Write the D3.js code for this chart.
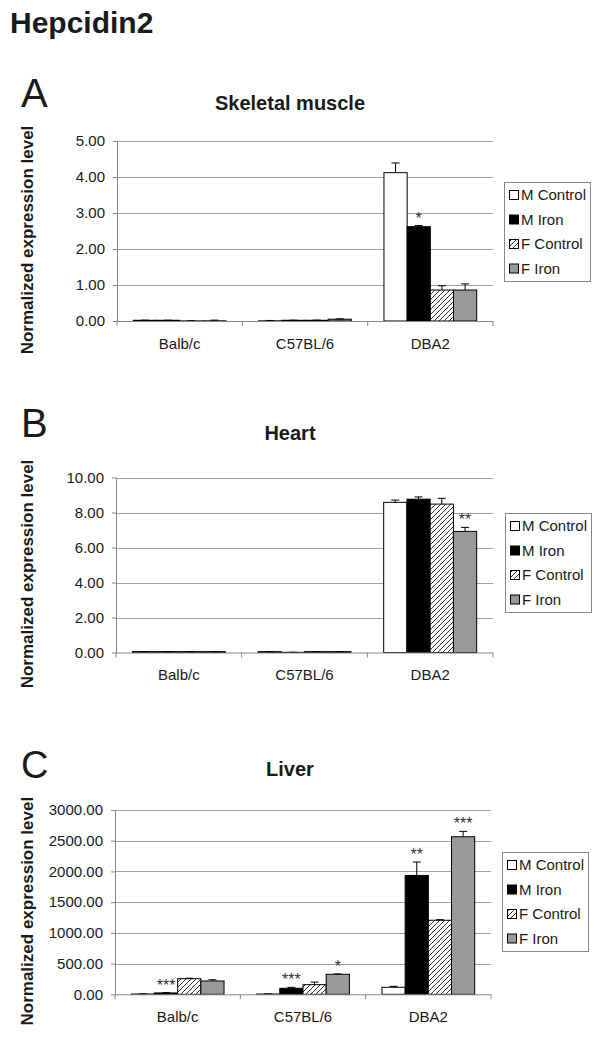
<!DOCTYPE html>
<html><head><meta charset="utf-8">
<script src="https://cdn.jsdelivr.net/npm/d3@7"></script>
<style>
body{margin:0;background:#fff;}
svg{display:block;font-family:Arial,"Liberation Sans",Helvetica,sans-serif;}
</style></head>
<body><svg id="chart" width="600" height="1039"></svg>
<script>
// ---- data ----
const categories = ["Balb/c", "C57BL/6", "DBA2"];
const seriesNames = ["M Control", "M Iron", "F Control", "F Iron"];

// A: Skeletal muscle
const muscleMControl = [0.02, 0.005, 4.12];
const muscleMIron    = [0.02, 0.02, 2.62];
const muscleFControl = [0.003, 0.02, 0.86];
const muscleFIron    = [0.005, 0.05, 0.86];
const muscleErrMControl = [0.003, 0.01, 0.27];
const muscleErrMIron    = [0.002, 0.003, 0.03];
const muscleErrFControl = [0.003, 0.004, 0.12];
const muscleErrFIron    = [0.02, 0.01, 0.17];
const muscleSigMIron = ["", "", "*"];
const muscleSigFIron = ["", "", ""];
const muscleTicks = ["0.00", "1.00", "2.00", "3.00", "4.00", "5.00"];

// B: Heart
const heartMControl = [0.05, 0.05, 8.58];
const heartMIron    = [0.05, 0.01, 8.76];
const heartFControl = [0.05, 0.05, 8.48];
const heartFIron    = [0.05, 0.05, 6.92];
const heartErrMControl = [0.005, 0.005, 0.13];
const heartErrMIron    = [0.005, 0.005, 0.13];
const heartErrFControl = [0.005, 0.005, 0.33];
const heartErrFIron    = [0.005, 0.005, 0.23];
const heartSigMIron = ["", "", ""];
const heartSigFIron = ["", "", "**"];
const heartTicks = ["0.00", "2.00", "4.00", "6.00", "8.00", "10.00"];

// C: Liver
const liverMControl = [5, 5, 114];
const liverMIron    = [22, 98, 1935];
const liverFControl = [254, 157, 1205];
const liverFIron    = [217, 326, 2565];
const liverErrMControl = [2, 2, 16];
const liverErrMIron    = [5, 15, 218];
const liverErrFControl = [8, 42, 10];
const liverErrFIron    = [20, 5, 87];
const liverSigMIron = ["***", "***", "**"];
const liverSigFIron = ["", "*", "***"];
const liverTicks = ["0.00", "500.00", "1000.00", "1500.00", "2000.00", "2500.00", "3000.00"];

// ---- drawing ----
const svg = d3.select("#chart");
const defs = svg.append("defs");
const pat = defs.append("pattern").attr("id", "hatch")
  .attr("patternUnits", "userSpaceOnUse").attr("width", 5).attr("height", 5);
pat.append("rect").attr("width", 5).attr("height", 5).attr("fill", "#fff");
pat.append("path").attr("d", "M-1,1 l2,-2 M0,5 l5,-5 M4,6 l2,-2")
  .attr("stroke", "#333").attr("stroke-width", 1);

const fills = ["#ffffff", "#000000", "url(#hatch)", "#999999"];
const textColor = "#1a1a1a";

svg.append("text").attr("x", 10).attr("y", 33)
  .attr("font-size", 30).attr("font-weight", "bold").attr("fill", textColor)
  .text("Hepcidin2");

const panels = [
  { letter: "A", title: "Skeletal muscle", letterY: 107, letterSize: 40, titleY: 110,
    x0: 117, x1: 493, y0: 141, y1: 321, ticks: muscleTicks,
    values: [muscleMControl, muscleMIron, muscleFControl, muscleFIron],
    errs: [muscleErrMControl, muscleErrMIron, muscleErrFControl, muscleErrFIron],
    sigs: [null, muscleSigMIron, null, muscleSigFIron],
    legendX: 504, legendY: 182, catOffset: 28 },
  { letter: "B", title: "Heart", letterY: 437, letterSize: 40, titleY: 440,
    x0: 116, x1: 493, y0: 477.5, y1: 652.5, ticks: heartTicks,
    values: [heartMControl, heartMIron, heartFControl, heartFIron],
    errs: [heartErrMControl, heartErrMIron, heartErrFControl, heartErrFIron],
    sigs: [null, heartSigMIron, null, heartSigFIron],
    legendX: 505, legendY: 513, catOffset: 27 },
  { letter: "C", title: "Liver", letterY: 778, letterSize: 38, titleY: 776,
    x0: 115, x1: 491, y0: 810, y1: 994.3, ticks: liverTicks,
    values: [liverMControl, liverMIron, liverFControl, liverFIron],
    errs: [liverErrMControl, liverErrMIron, liverErrFControl, liverErrFIron],
    sigs: [null, liverSigMIron, null, liverSigFIron],
    legendX: 502, legendY: 852, catOffset: 28 }
];

panels.forEach(p => {
  const g = svg.append("g");
  const tickVals = p.ticks.map(Number);
  const y = d3.scaleLinear().domain([0, d3.max(tickVals)]).range([p.y1, p.y0]);
  const x = d3.scaleBand().domain(categories).range([p.x0, p.x1]).paddingInner(0).paddingOuter(0);
  const xs = d3.scaleBand().domain(seriesNames)
    .range([x.bandwidth() * 0.13, x.bandwidth() * 0.87]).padding(0);

  // letter and title
  g.append("text").attr("x", 21).attr("y", p.letterY)
    .attr("font-size", p.letterSize).attr("fill", textColor).text(p.letter);
  g.append("text").attr("x", 290).attr("y", p.titleY).attr("text-anchor", "middle")
    .attr("font-size", 20).attr("font-weight", "bold").attr("fill", textColor).text(p.title);

  // y-axis title
  g.append("text")
    .attr("transform", `translate(33,${(p.y0 + p.y1) / 2 + 9}) rotate(-90)`)
    .attr("text-anchor", "middle").attr("font-size", 17).attr("font-weight", "bold")
    .attr("fill", textColor).text("Normalized expression level");

  // gridlines
  g.append("g").selectAll("line").data(tickVals.filter(v => v > 0)).join("line")
    .attr("x1", p.x0).attr("x2", p.x1)
    .attr("y1", d => Math.round(y(d)) + 0.5).attr("y2", d => Math.round(y(d)) + 0.5)
    .attr("stroke", "#a0a0a0").attr("stroke-width", 1);

  // y axis
  const yAxis = g.append("g").attr("transform", `translate(${p.x0},0)`)
    .call(d3.axisLeft(y).tickValues(tickVals).tickSizeOuter(0).tickSizeInner(4).tickPadding(8)
      .tickFormat((d, i) => p.ticks[i]));
  yAxis.select(".domain").attr("stroke", "#888");
  yAxis.selectAll(".tick line").attr("stroke", "#888");
  yAxis.selectAll(".tick text").attr("font-size", 15).attr("fill", textColor)
    .attr("font-family", "Arial, 'Liberation Sans', sans-serif");

  // bars
  const barG = g.append("g");
  seriesNames.forEach((s, si) => {
    const vals = p.values[si];
    barG.append("g").selectAll("rect").data(categories).join("rect")
      .attr("x", c => x(c) + xs(s))
      .attr("y", (c, i) => y(vals[i]))
      .attr("width", xs.bandwidth())
      .attr("height", (c, i) => Math.max(0, y(0) - y(vals[i])))
      .attr("fill", fills[si]).attr("stroke", "#000").attr("stroke-width", 1);
    // error bars
    const errs = p.errs[si];
    const eg = barG.append("g");
    categories.forEach((c, i) => {
      const cx = x(c) + xs(s) + xs.bandwidth() / 2;
      const top = y(vals[i] + errs[i]);
      eg.append("line").attr("x1", cx).attr("x2", cx).attr("y1", y(vals[i])).attr("y2", top)
        .attr("stroke", "#000").attr("stroke-width", 1);
      eg.append("line").attr("x1", cx - 4).attr("x2", cx + 4).attr("y1", top).attr("y2", top)
        .attr("stroke", "#000").attr("stroke-width", 1);
      const sig = p.sigs[si] ? p.sigs[si][i] : "";
      if (sig) {
        eg.append("text").attr("x", cx).attr("y", top - 2).attr("text-anchor", "middle")
          .attr("font-size", 16).attr("fill", "#333").text(sig);
      }
    });
  });

  // x axis
  const xAxis = g.append("g").attr("transform", `translate(0,${p.y1})`);
  xAxis.append("line").attr("x1", p.x0).attr("x2", p.x1).attr("y1", 0.5).attr("y2", 0.5)
    .attr("stroke", "#888");
  xAxis.selectAll("line.tk").data(categories.map(c => x(c)).concat([p.x1])).join("line")
    .attr("class", "tk").attr("x1", d => d).attr("x2", d => d).attr("y1", 0).attr("y2", 5)
    .attr("stroke", "#888");
  xAxis.selectAll("text").data(categories).join("text")
    .attr("x", c => x(c) + x.bandwidth() / 2).attr("y", p.catOffset)
    .attr("text-anchor", "middle").attr("font-size", 15).attr("fill", textColor).text(c => c);

  // legend
  const lg = g.append("g").attr("transform", `translate(${p.legendX},${p.legendY})`);
  lg.append("rect").attr("x", 0.5).attr("y", 0.5).attr("width", 86).attr("height", 99)
    .attr("fill", "#fff").attr("stroke", "#888");
  seriesNames.forEach((s, si) => {
    const cy = 13 + si * 24.5;
    lg.append("rect").attr("x", 5.5).attr("y", cy - 4.5).attr("width", 9).attr("height", 9)
      .attr("fill", fills[si]).attr("stroke", "#000");
    lg.append("text").attr("x", 17).attr("y", cy + 5).attr("font-size", 15)
      .attr("fill", textColor).text(s);
  });
});
</script></body></html>
